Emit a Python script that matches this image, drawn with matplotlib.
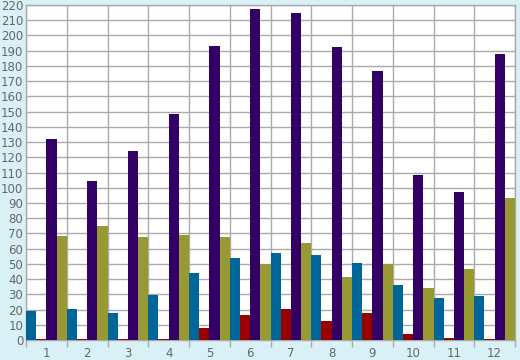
import matplotlib
matplotlib.use("Agg")
import matplotlib.pyplot as plt
import numpy as np

categories = [str(i) for i in range(1, 13)]
blue = [19, 20.3, 17.7, 29.5, 44, 53.8, 57, 55.8, 50.6, 36, 27.6, 28.9]
red = [0.5, 0.5, 0.5, 0.5, 7.9, 16.4, 20.3, 12.5, 17.7, 3.9, 1.3, 0.5]
purple = [132, 104.4, 124, 148.4, 193, 217.3, 214.7, 192.4, 176.6, 108.3, 97.2, 187.8]
olive = [68.3, 74.8, 67.6, 68.9, 67.6, 49.9, 63.7, 41.4, 49.9, 34, 46.6, 93.2]

series = [blue, red, purple, olive]
colors = ["#006699", "#990000", "#330066", "#999933"]

bg = "#d9f0f7"
grid_c = "#aaaaaa"
text_c = "#666666"

fig = plt.figure(figsize=(5.2, 3.6), dpi=100, facecolor=bg)
ax = fig.add_axes([26 / 520, 20 / 360, 489 / 520, 335 / 360])
ax.set_facecolor("white")

x = np.arange(len(categories))
w = 0.25
for i, (vals, c) in enumerate(zip(series, colors)):
    ax.bar(x - 0.375 + i * w, vals, width=w, color=c, zorder=3, linewidth=0)

ax.set_xlim(-0.5, len(categories) - 0.5)
ax.set_ylim(0, 220)
ax.set_yticks(np.arange(0, 221, 10))
ax.set_xticks(x)
ax.set_xticklabels(categories)
ax.set_xticks(np.arange(-0.5, len(categories), 1), minor=True)

ax.grid(True, axis="y", which="major", color=grid_c, linewidth=1, zorder=0)
ax.grid(True, axis="x", which="minor", color=grid_c, linewidth=1, zorder=0)

ax.tick_params(axis="y", length=0, pad=2, labelsize=8.5, labelcolor=text_c)
ax.tick_params(axis="x", which="major", length=0, pad=5, labelsize=8.5, labelcolor=text_c)
ax.tick_params(axis="x", which="minor", length=5, color=grid_c, width=1)

for s in ax.spines.values():
    s.set_color(grid_c)
    s.set_linewidth(1)

fig.savefig("out.png", dpi=100, facecolor=bg)
